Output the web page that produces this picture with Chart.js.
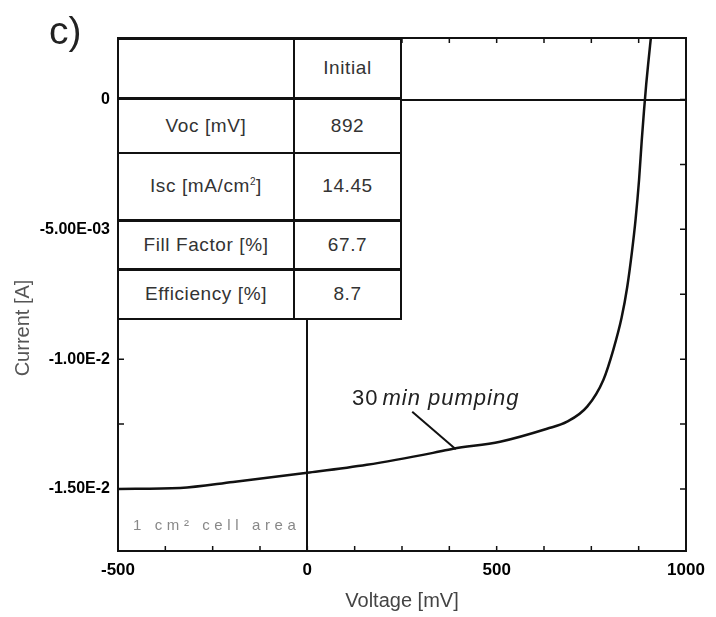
<!DOCTYPE html>
<html>
<head>
<meta charset="utf-8">
<script src="https://cdn.jsdelivr.net/npm/chart.js@4"></script>
<style>
  body { margin: 0; background: #fff; }
  #wrap { position: relative; width: 716px; height: 617px; font-family: 'Liberation Sans', Arial, sans-serif; }
  #wrap canvas { position: absolute; left: 0; top: 0; }
  .panel { position: absolute; left: 49px; top: 9px; font-size: 39px; color: #222; }
  table.params { position: absolute; left: 117px; top: 38px; border-collapse: collapse; background: #fff; z-index: 2; }
  table.params td { border: 2px solid #111; text-align: center; font-size: 19px; letter-spacing: 0.6px; color: #333; padding: 0; }
  table.params td.k { width: 174px; }
  table.params td.v { width: 105px; }
  .area { position: absolute; left: 133px; top: 516px; font-size: 15px; color: #888; letter-spacing: 4.6px; z-index: 2; }
</style>
</head>
<body>
<div id="wrap">
  <canvas id="iv" width="716" height="617"></canvas>
  <div class="panel">c)</div>
  <table class="params">
    <tr style="height:59px"><td class="k"></td><td class="v">Initial</td></tr>
    <tr style="height:55px; border-top:3px solid #111"><td class="k">Voc [mV]</td><td class="v">892</td></tr>
    <tr style="height:67px"><td class="k">Isc [mA/cm<sup style="font-size:10px">2</sup>]</td><td class="v">14.45</td></tr>
    <tr style="height:49px"><td class="k" style="border-top-width:3px">Fill Factor [%]</td><td class="v" style="border-top-width:3px">67.7</td></tr>
    <tr style="height:50px"><td class="k" style="border-top-width:3px">Efficiency [%]</td><td class="v" style="border-top-width:3px">8.7</td></tr>
  </table>
  <div class="area">1 cm² cell area</div>
</div>
<script>
const voltage = [-500, -336, -196, 0, 157, 332, 385, 509, 633, 686, 739, 782, 808, 830, 845, 857, 867, 876, 883, 889, 895, 901, 907];
const current = [-0.0150, -0.01496, -0.01473, -0.01438, -0.01407, -0.01361, -0.01345, -0.01318, -0.01268, -0.01241,
                 -0.01183, -0.01079, -0.00964, -0.00840, -0.00720, -0.00590, -0.00460, -0.00310, -0.00160, -0.00045,
                 0.00060, 0.00150, 0.00235];

const xTicks = [-500, 0, 500, 1000];
const yTicks = [-0.015, -0.01, -0.005, 0];
const yTickLabels = ['-1.50E-2', '-1.00E-2', '-5.00E-03', '0'];

const zeroLine = c => c.tick && c.tick.value === 0 ? '#111' : 'rgba(0,0,0,0)';

// frame, inner minor ticks, labels and the pointer for the curve
const extras = {
  id: 'extras',
  afterDraw(chart) {
    const { ctx, chartArea: a, scales: { x, y } } = chart;
    ctx.save();
    ctx.strokeStyle = '#111';
    ctx.lineWidth = 1.5;
    ctx.beginPath();
    for (let v = -375; v < 1000; v += 125) {
      const px = x.getPixelForValue(v);
      ctx.moveTo(px, a.bottom); ctx.lineTo(px, a.bottom - 5);
      ctx.moveTo(px, a.top); ctx.lineTo(px, a.top + 5);
    }
    for (let v = 0; v > y.min; v -= 0.0025) {
      const py = y.getPixelForValue(v);
      ctx.moveTo(a.left, py); ctx.lineTo(a.left + 6, py);
      ctx.moveTo(a.right, py); ctx.lineTo(a.right - 6, py);
    }
    ctx.stroke();
    ctx.lineWidth = 2;
    ctx.strokeRect(a.left, a.top, a.width, a.height);

    // pointer
    ctx.beginPath();
    ctx.moveTo(x.getPixelForValue(277), y.getPixelForValue(-0.01203));
    ctx.lineTo(x.getPixelForValue(392), y.getPixelForValue(-0.01347));
    ctx.stroke();
    ctx.fillStyle = '#222';
    ctx.textBaseline = 'alphabetic';
    ctx.letterSpacing = '1px';
    ctx.font = '22px "Liberation Sans"';
    const lx = x.getPixelForValue(118), ly = y.getPixelForValue(-0.01178);
    ctx.fillText('30', lx, ly);
    ctx.font = 'italic 22px "Liberation Sans"';
    ctx.fillText('min pumping', lx + ctx.measureText('30').width + 4, ly);
    ctx.letterSpacing = '0px';

    // y title
    ctx.translate(23, 328);
    ctx.rotate(-Math.PI / 2);
    ctx.textAlign = 'center';
    ctx.textBaseline = 'middle';
    ctx.fillStyle = '#555';
    ctx.font = '20px "Liberation Sans"';
    ctx.fillText('Current [A]', 0, 0);
    ctx.restore();
  }
};

new Chart(document.getElementById('iv'), {
  type: 'line',
  data: {
    datasets: [{
      label: '30 min pumping',
      data: voltage.map((v, i) => ({ x: v, y: current[i] })),
      borderColor: '#111',
      borderWidth: 2.5,
      pointRadius: 0,
      cubicInterpolationMode: 'monotone',
      fill: false
    }]
  },
  options: {
    responsive: false,
    animation: false,
    layout: { padding: { top: 38, right: 30, left: 0, bottom: 0 } },
    plugins: { legend: { display: false }, tooltip: { enabled: false } },
    scales: {
      x: {
        type: 'linear', min: -500, max: 1000,
        afterBuildTicks: s => { s.ticks = xTicks.map(v => ({ value: v })); },
        afterFit: s => { s.height = 66; },
        ticks: { font: { family: 'Liberation Sans', size: 17, weight: 'bold' }, color: '#000', padding: 9, maxRotation: 0,
                 callback: v => String(v) },
        grid: { color: zeroLine, lineWidth: 2, drawTicks: false },
        border: { display: false },
        title: { display: true, text: 'Voltage [mV]', color: '#444', font: { family: 'Liberation Sans', size: 20 }, padding: { top: 4 } }
      },
      y: {
        type: 'linear', min: -0.01739, max: 0.00237,
        afterBuildTicks: s => { s.ticks = yTicks.map(v => ({ value: v })); },
        afterFit: s => { s.width = 118; },
        ticks: { font: { family: 'Liberation Sans', size: 16, weight: 'bold' }, color: '#000', padding: 8,
                 callback: (v, i) => yTickLabels[i] },
        grid: { color: zeroLine, lineWidth: 2, drawTicks: false },
        border: { display: false }
      }
    }
  },
  plugins: [extras]
});
</script>
</body>
</html>
